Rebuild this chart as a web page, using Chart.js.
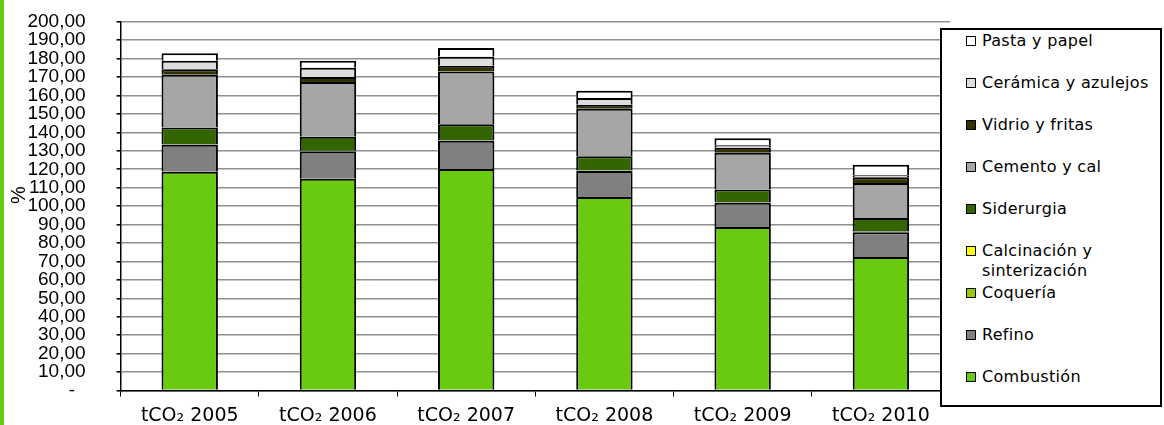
<!DOCTYPE html>
<html>
<head>
<meta charset="utf-8">
<script src="https://cdn.jsdelivr.net/npm/chart.js@4/dist/chart.umd.min.js"></script>
<style>
html,body{margin:0;padding:0;background:#fff;}
#wrap{position:relative;width:1164px;height:425px;overflow:hidden;background:#fff;}
#c{position:absolute;left:0;top:0;}
#strip{position:absolute;left:0;top:0;width:4px;height:425px;background:#6ACA10;}
#legend{position:absolute;left:940px;top:28px;width:218px;height:375px;border:2px solid #000;background:#fff;}
.item{position:absolute;left:24px;font-family:"DejaVu Sans",sans-serif;font-size:16px;line-height:20px;color:#000;white-space:nowrap;letter-spacing:0.3px;}
.sw{position:absolute;left:0;top:5px;width:8px;height:8px;border:1.5px solid #000;}
.txt{position:absolute;left:16px;top:0;}
</style>
</head>
<body>
<div id="wrap">
  <canvas id="c" width="1164" height="425"></canvas>
  <div id="strip"></div>
  <div id="legend"></div>
</div>
<script>
const categories = ['tCO\u2082 2005','tCO\u2082 2006','tCO\u2082 2007','tCO\u2082 2008','tCO\u2082 2009','tCO\u2082 2010'];
const yTickLabels = ['-  ','10,00','20,00','30,00','40,00','50,00','60,00','70,00','80,00','90,00','100,00','110,00','120,00','130,00','140,00','150,00','160,00','170,00','180,00','190,00','200,00'];

const combustion  = [118.6, 114.8, 120.2, 105.0, 88.7, 72.4];
const refino      = [14.7, 14.9, 15.3, 14.0, 13.1, 13.4];
const coqueria    = [0.2, 0.2, 0.2, 0.2, 0.2, 0.2];
const calcinacion = [0.2, 0.2, 0.2, 0.2, 0.2, 0.2];
const siderurgia  = [8.9, 7.6, 8.5, 7.7, 6.8, 7.4];
const cemento     = [28.7, 29.7, 28.6, 25.7, 20.0, 19.0];
const vidrio      = [3.0, 2.7, 3.1, 2.2, 2.7, 3.1];
const ceramica    = [4.6, 5.0, 5.0, 3.6, 1.3, 1.1];
const pasta       = [4.1, 3.8, 4.7, 4.0, 3.8, 5.7];

const series = [
  {label:'Combustión', data:combustion, color:'#6ACA10'},
  {label:'Refino', data:refino, color:'#808080'},
  {label:'Coquería', data:coqueria, color:'#99CC00', thin:true},
  {label:'Calcinación y\nsinterización', data:calcinacion, color:'#FFFF00', thin:true},
  {label:'Siderurgia', data:siderurgia, color:'#336600'},
  {label:'Cemento y cal', data:cemento, color:'#A6A6A6'},
  {label:'Vidrio y fritas', data:vidrio, color:'#333300'},
  {label:'Cerámica y azulejos', data:ceramica, color:'#DDDDDD'},
  {label:'Pasta y papel', data:pasta, color:'#FFFFFF'}
];

const datasets = series.map(s => ({
  label: s.label,
  data: s.data,
  backgroundColor: s.color,
  borderColor: '#000',
  borderWidth: 2,
  borderSkipped: s.thin ? false : 'start',
  categoryPercentage: 1,
  barPercentage: 0.408
}));

new Chart(document.getElementById('c'), {
  type: 'bar',
  data: {labels: categories, datasets: datasets},
  options: {
    responsive: false,
    animation: false,
    layout: {padding: {top: 21.8, right: 214, left: 0, bottom: 0}},
    plugins: {legend: {display: false}, tooltip: {enabled: false}},
    scales: {
      x: {
        stacked: true,
        afterFit: s => { s.height = 34.5; },
        grid: {drawOnChartArea: false, drawTicks: true, tickLength: 6, color: '#000', tickColor: '#000', offset: true},
        border: {display: true, color: '#000', width: 1.5},
        ticks: {color: '#000', padding: 8, font: {family: '"DejaVu Sans", sans-serif', size: 19}, maxRotation: 0, autoSkip: false}
      },
      y: {
        stacked: true,
        min: 0, max: 200,
        afterFit: s => { s.width = 120.6; s.paddingTop = 0; s.paddingBottom = 0; },
        grid: {color: '#8f8f8f', lineWidth: 1.6, tickColor: '#000', tickLength: 4, drawTicks: true},
        border: {display: true, color: '#000', width: 1.5},
        ticks: {
          stepSize: 10, autoSkip: false, color: '#000', padding: 31,
          font: {family: '"Liberation Sans", Arial, sans-serif', size: 19},
          callback: (v, i) => yTickLabels[i]
        },
        title: {display: true, text: '    %', color: '#000', font: {family: '"Liberation Sans", Arial, sans-serif', size: 20}, padding: {top: 7, bottom: 0}}
      }
    }
  }
});

const legend = document.getElementById('legend');
series.slice().reverse().forEach((s, i) => {
  const center = 41.3 + 41.9 * i;
  const item = document.createElement('div');
  item.className = 'item';
  item.style.top = (center - 10 - 30) + 'px';
  const sw = document.createElement('div');
  sw.className = 'sw';
  sw.style.background = s.color;
  const t = document.createElement('div');
  t.className = 'txt';
  t.innerHTML = s.label.replace('\n', '<br>');
  item.appendChild(sw);
  item.appendChild(t);
  legend.appendChild(item);
});
</script>
</body>
</html>
